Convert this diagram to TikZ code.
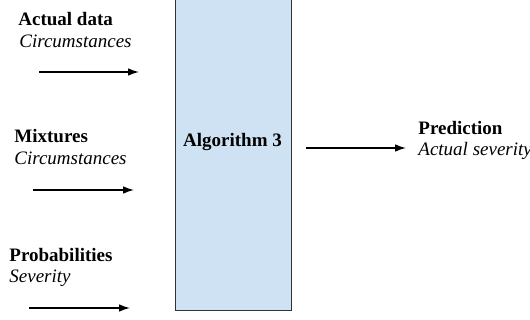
\documentclass[tikz,border=0pt]{standalone}
\usepackage{fontspec}
\setmainfont{Liberation Serif}
\usetikzlibrary{arrows.meta}
\definecolor{boxblue}{HTML}{CFE2F3}
\definecolor{boxline}{HTML}{333333}
\begin{document}
\begin{tikzpicture}[x=0.5pt,y=-0.5pt,
  lbl/.style={anchor=base west,inner sep=0pt,font=\fontsize{9.5}{11}\selectfont},
  head/.style={lbl,font=\fontsize{9.5}{11}\selectfont\bfseries},
  sub/.style={lbl,font=\fontsize{9.5}{11}\selectfont\itshape},
  flow/.style={-{Latex[length=5.5pt,width=3.8pt]},line width=0.65pt}]
\useasboundingbox (0,0) rectangle (530,320);
\clip (0,0) rectangle (530,320);
% central algorithm block
\node[draw=boxline,fill=boxblue,line width=0.6pt,minimum width=115.5pt/2,
      minimum height=322pt/2,inner sep=0pt,anchor=south west] (alg) at (175,311.5) {};
\node[head,anchor=base] (algtxt) at (232.5,147) {Algorithm 3};
% inputs
\node[head] (in1) at (18,26) {Actual data};
\node[sub]  (in1s) at (19,48) {Circumstances};
\node[head] (in2) at (14,143) {Mixtures};
\node[sub]  (in2s) at (14,165) {Circumstances};
\node[head] (in3) at (9,262) {Probabilities};
\node[sub]  (in3s) at (9,283) {Severity};
% output
\node[head] (out) at (418,135) {Prediction};
\node[sub]  (outs) at (418,156) {Actual severity};
% arrow end points
\coordinate (a1s) at (39,72);  \coordinate (a1e) at (139,72);
\coordinate (a2s) at (33,190); \coordinate (a2e) at (134,190);
\coordinate (a3s) at (29,308); \coordinate (a3e) at (130,308);
\coordinate (a4s) at (306,148); \coordinate (a4e) at (406,148);
\draw[flow] (a1s) -- (a1e);
\draw[flow] (a2s) -- (a2e);
\draw[flow] (a3s) -- (a3e);
\draw[flow] (a4s) -- (a4e);
\end{tikzpicture}
\end{document}
